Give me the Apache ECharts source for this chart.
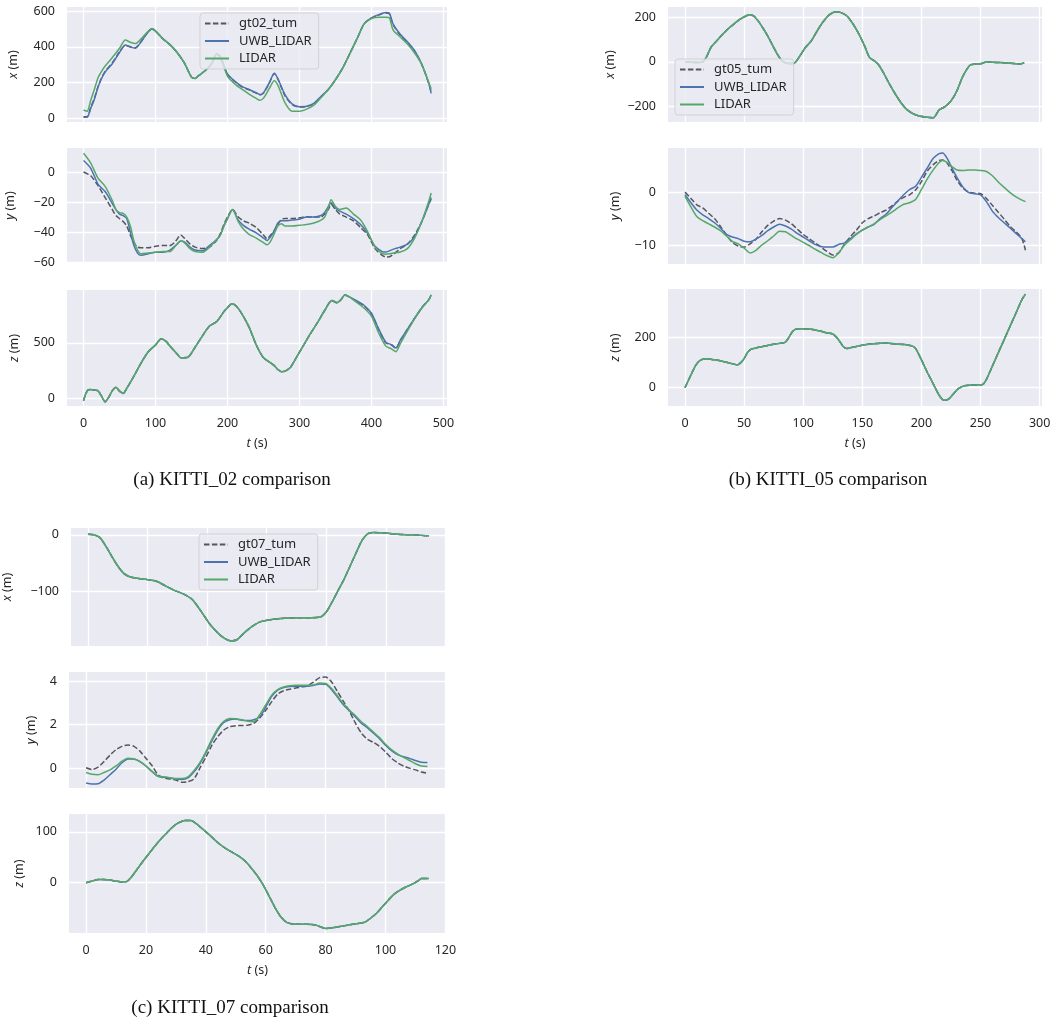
<!DOCTYPE html>
<html>
<head>
<meta charset="utf-8">
<title>KITTI trajectory comparison</title>
<script src="https://cdn.jsdelivr.net/npm/echarts@6/dist/echarts.min.js"></script>
<style>
  html, body { margin: 0; padding: 0; background: #ffffff; }
  #chart { width: 1054px; height: 1020px; }
</style>
</head>
<body>
<div id="chart"></div>
<script>
// ---------- KITTI_02 ----------
const A_x_t = [0,5,10,15,20,25,30,40,50,58,65,72,80,88,95,100,110,120,130,140,150,155,160,170,178,185,190,200,210,220,230,240,245,250,258,265,270,280,290,300,310,320,330,340,350,360,370,380,390,400,410,420,425,430,440,450,460,470,480,483];
const A_x_gt = [8,8,60,110,175,225,262,310,372,408,400,394,430,475,500,488,445,412,368,310,230,222,238,270,305,360,345,245,205,175,158,140,130,140,195,250,218,125,75,62,65,80,120,160,215,280,362,445,530,560,578,590,585,525,465,425,375,300,190,145];
const A_x_uwb = [5,5,55,105,172,222,258,305,368,410,398,392,428,474,500,488,446,412,368,310,230,222,238,270,305,360,345,248,207,178,160,142,132,142,198,252,222,130,78,64,66,82,122,160,215,280,362,445,530,562,580,592,588,528,470,428,378,302,192,138];
const A_x_lidar = [45,38,100,160,225,262,292,340,392,438,425,418,445,480,502,490,445,412,368,310,228,222,238,270,305,358,340,235,192,162,135,110,100,112,165,210,185,85,38,38,50,72,115,160,215,280,362,445,530,558,566,566,562,495,455,415,365,300,195,165];

const A_y_t = [0,10,20,30,40,45,50,55,60,65,70,75,80,90,100,110,120,128,135,140,148,155,165,175,185,190,195,200,207,215,222,230,240,250,255,260,265,270,275,280,290,300,310,320,330,335,340,344,350,356,365,375,385,395,405,415,420,425,430,440,450,460,470,480,483];
const A_y_gt = [0,-2.5,-9,-17,-25,-29,-31,-33,-36,-42,-47,-50,-50.5,-50.5,-49.5,-49,-49,-46,-42,-44,-48,-50,-51,-50,-45.5,-41,-35,-30,-25,-30,-32.5,-34,-37,-42,-44.5,-42,-39,-35,-31.5,-31,-31,-30.5,-29.8,-30,-30,-28,-25,-21.5,-25,-28,-30,-32.5,-37,-42,-51,-55.5,-56.6,-56.5,-55,-51,-48,-42,-33,-21,-18];
const A_y_uwb = [7.7,2.5,-8,-13,-21,-25,-28,-29,-31,-40,-49,-54,-55.5,-54.5,-53.5,-53.5,-52,-49,-46,-46.5,-50,-52,-52.5,-49,-45,-42,-36,-31,-25,-32,-35.5,-38,-40.5,-44,-45.6,-43,-39,-34,-32.5,-32.5,-32,-31.4,-30,-30,-29,-27,-23,-20.4,-24,-26,-28,-31,-35,-41,-49.5,-53,-53.3,-52.5,-51.5,-50,-48,-43,-33,-21,-17];
const A_y_lidar = [12.5,6,-4,-9.5,-19,-25,-27,-27.5,-30,-36,-46,-52,-54.5,-54,-53.5,-53,-53,-49,-46,-47,-51,-53,-53.5,-50,-45,-42,-36,-31,-25,-33,-38,-41.5,-44,-47,-48.5,-46,-41,-36,-34.5,-36,-36,-35.5,-35,-34,-32,-30,-24,-18.5,-23,-25,-24,-28,-32,-40,-50,-54.4,-54.8,-54.5,-54,-53.3,-51,-44,-33,-19,-14];

const A_z_t = [0,3,6,10,15,20,25,30,35,40,45,50,55,60,70,80,90,100,108,115,120,130,135,145,155,165,175,185,195,200,206,212,220,230,240,250,260,265,270,275,280,287,295,305,315,325,335,345,352,358,363,370,380,390,400,410,420,428,434,440,450,460,470,480,483];
const A_z_gt = [-20,40,75,80,75,70,20,-30,10,70,100,65,45,90,200,320,420,480,535,510,470,400,365,370,460,560,650,690,780,815,850,830,760,640,480,365,320,295,260,240,245,275,360,470,580,680,790,880,860,890,928,910,870,830,760,620,500,480,450,520,620,720,815,890,930];
const A_z_uwb = [-20,40,75,80,75,70,20,-30,10,70,100,65,45,90,200,320,420,480,535,510,470,400,365,370,460,560,650,690,780,815,850,830,760,640,480,365,320,295,260,240,245,275,360,470,580,680,790,880,860,890,928,910,875,835,765,625,505,482,452,522,622,722,815,890,930];
const A_z_lidar = [-20,40,75,80,75,70,20,-30,10,70,100,65,45,90,200,320,420,480,535,510,470,400,365,370,460,560,650,690,780,815,850,830,760,640,480,365,320,295,260,240,245,275,360,470,580,680,790,880,860,890,928,910,860,810,740,590,470,445,420,490,605,715,810,888,930];

// ---------- KITTI_05 ----------
const B_x_t = [0,5,10,15,18,22,27,32,37,42,47,52,55,58,62,66,70,74,78,82,87,92,97,102,107,112,117,122,128,132,137,142,147,152,156,160,164,168,173,178,183,188,193,198,205,210,215,220,225,230,235,241,245,251,255,260,266,272,278,283,287];
const B_x_gt = [0,-2,-3,0,20,65,95,124,150,172,192,206,210,205,182,150,115,75,35,5,-7,-7,25,65,95,140,180,210,224,220,205,170,125,70,20,5,-15,-50,-100,-145,-185,-215,-232,-242,-248,-250,-215,-200,-175,-130,-65,-15,-10,-8,0,-2,-3,-5,-7,-10,-4];
const B_x_uwb = B_x_gt;
const B_x_lidar = B_x_gt;

const B_y_t = [0,5,10,15,20,25,30,35,40,45,50,55,60,65,70,75,80,85,90,95,100,105,110,115,120,125,130,135,140,145,150,155,160,165,170,175,180,185,190,195,200,205,210,215,218,222,226,230,235,240,245,250,255,260,265,270,275,280,285,288];
const B_y_gt = [0,-1.2,-2.4,-3,-4,-5,-6.5,-8.1,-9.5,-10.2,-10.4,-9.8,-8.9,-7.5,-6.3,-5.5,-5,-5.3,-6,-7,-8,-8.8,-9.6,-10.4,-11.2,-11.9,-11.5,-9.8,-8.4,-7.2,-5.8,-5,-4.5,-3.9,-3.4,-2.6,-1.7,-1,-0.5,0.4,2,4,5.2,6,6.1,5.4,4,2.3,0.8,0,-0.2,-0.3,-1.2,-2.5,-3.8,-5.1,-6.5,-7.5,-8.8,-11];
const B_y_uwb = [-0.5,-2,-3.4,-4.3,-5,-5.8,-6.8,-8,-8.5,-8.8,-9.3,-9.4,-8.9,-8.2,-7.3,-6.6,-6.1,-6.4,-7,-7.8,-8.5,-9.2,-9.9,-10.3,-10.4,-10.4,-9.9,-9.6,-8.8,-7.9,-7.2,-6.6,-6.1,-5,-4.2,-2.9,-1.7,-0.5,0.5,1.1,2.8,4.6,6.4,7.3,7.4,6.3,4.5,2.8,1,-0.1,-0.3,-0.5,-1.8,-3.6,-4.8,-5.8,-6.8,-7.8,-8.8,-9.4];
const B_y_lidar = [-0.8,-2.8,-4.6,-5.4,-6,-6.6,-7.3,-8.3,-9.3,-9.8,-10.6,-11.5,-11,-10,-9.2,-8.3,-7.4,-7.5,-8.2,-8.9,-9.5,-10.1,-10.8,-11.4,-12,-12.4,-11.5,-10,-9,-8,-7.2,-6.6,-6,-5.2,-4.5,-3.8,-3,-2.3,-2,-1.4,0.5,2.5,4.2,5.6,6,5.6,4.8,4.2,4.1,4.2,4.2,4.1,3.9,3.1,1.9,0.9,-0.1,-0.9,-1.5,-1.8];

const B_z_t = [0,3,6,9,12,15,20,25,30,35,40,44,47,50,53,56,60,65,70,75,80,85,88,91,94,98,105,110,115,120,125,128,131,134,137,145,152,160,170,180,188,192,195,200,205,210,215,219,223,227,231,236,242,248,252,255,260,265,270,275,280,285,288];
const B_z_gt = [0,30,60,88,105,112,113,110,106,100,95,90,98,115,140,152,157,162,167,172,175,180,200,222,232,233,232,228,223,216,212,200,182,162,155,163,170,174,176,172,169,165,155,110,60,15,-30,-50,-45,-25,-5,7,10,11,13,33,85,138,190,243,295,348,370];
const B_z_uwb = B_z_gt;
const B_z_lidar = B_z_gt;

// ---------- KITTI_07 ----------
const C_x_t = [0,2,4,6,8,10,12,14,17,20,23,26,29,32,35,38,41,44,46,48,50,52,55,58,62,66,70,75,78,80,82,84,86,88,90,92,94,96,100,104,108,112,114.5];
const C_x_gt = [1,0,-5,-20,-38,-55,-68,-74,-77,-79,-82,-90,-98,-104,-114,-135,-158,-175,-183,-187,-185,-175,-162,-153,-149,-147,-146,-146,-145,-136,-118,-98,-78,-55,-32,-10,2,4,3,1,0,-1,-2];
const C_x_uwb = C_x_gt;
const C_x_lidar = C_x_gt;

const C_y_t = [0,2,4,6,8,10,12,14,16,18,20,22,24,26,28,30,32,34,36,38,40,42,44,46,48,50,52,54,56,58,60,62,64,66,68,70,72,74,76,78,80,82,84,86,88,90,92,94,96,98,100,102,104,106,108,110,112,114];
const C_y_gt = [0.02,-0.06,0.05,0.3,0.6,0.85,1.0,1.06,1.0,0.78,0.45,0.12,-0.3,-0.45,-0.5,-0.55,-0.65,-0.62,-0.5,0.0,0.5,1.05,1.45,1.75,1.9,1.95,1.96,1.97,2.05,2.3,2.65,3.05,3.4,3.55,3.62,3.68,3.72,3.78,3.95,4.15,4.18,3.95,3.5,3.05,2.6,2.05,1.6,1.32,1.18,1.0,0.75,0.45,0.25,0.1,0.0,-0.08,-0.18,-0.23];
const C_y_uwb = [-0.68,-0.73,-0.72,-0.55,-0.3,-0.05,0.25,0.42,0.42,0.3,0.1,-0.15,-0.38,-0.42,-0.45,-0.5,-0.52,-0.45,-0.18,0.2,0.7,1.25,1.75,2.1,2.22,2.25,2.2,2.18,2.22,2.35,2.8,3.3,3.58,3.7,3.75,3.76,3.76,3.76,3.8,3.86,3.85,3.6,3.25,2.9,2.62,2.35,2.05,1.85,1.6,1.35,1.05,0.8,0.62,0.52,0.45,0.35,0.27,0.26];
const C_y_lidar = [-0.2,-0.28,-0.3,-0.2,-0.08,0.1,0.32,0.45,0.42,0.3,0.1,-0.15,-0.36,-0.4,-0.44,-0.48,-0.48,-0.4,-0.12,0.25,0.75,1.32,1.82,2.15,2.28,2.27,2.22,2.15,2.13,2.45,2.9,3.35,3.6,3.72,3.78,3.8,3.8,3.8,3.82,3.9,3.88,3.65,3.3,2.95,2.65,2.4,2.12,1.9,1.65,1.4,1.1,0.85,0.65,0.5,0.35,0.2,0.1,0.08];

const C_z_t = [0,2,4,6,8,10,12,13.5,15,17,19,21,23,25,27,29,31,33,35,37,39,41,43,45,47,49,51,53,55,57,59,61,63,65,67,70,74,77,80,83,86,90,93,95,97,99,101,103,105,107,109,111,112,114.4];
const C_z_gt = [0,3,6,6,5,3,1.5,2,10,26,42,57,72,86,98,110,118,122,122,115,105,95,84,74,66,59,52,43,30,15,-3,-25,-48,-67,-78,-82,-82,-84,-90,-88,-85,-81,-78,-70,-60,-47,-34,-22,-14,-8,-3,4,8,8];
const C_z_uwb = C_z_gt;
const C_z_lidar = C_z_gt;

// ---------- tick labels ----------
const A_t_ticks = [0,100,200,300,400,500];
const B_t_ticks = [0,50,100,150,200,250,300];
const C_t_ticks = [0,20,40,60,80,100,120];
const A_x_ticks = [0,200,400,600];
const A_y_ticks = [-60,-40,-20,0];
const A_z_ticks = [0,500];
const B_x_ticks = [-200,0,200];
const B_y_ticks = [-10,0];
const B_z_ticks = [0,200];
const C_x_ticks = [-100,0];
const C_y_ticks = [0,2,4];
const C_z_ticks = [0,100];

const seriesLabels = { a: 'gt02_tum', b: 'gt05_tum', c: 'gt07_tum' };
const captions = { a: '(a) KITTI_02 comparison', b: '(b) KITTI_05 comparison', c: '(c) KITTI_07 comparison' };

// ---------- layout / style ----------
const TEXT = '#262626';
const FONT = 'Noto Sans';
const TICK_SIZE = 12.5;
const COL_GT = '#55555e';
const COL_UWB = '#4C72B0';
const COL_LIDAR = '#55A868';

const panels = [
  { key: 'a', left: 67, width: 380, tRange: [-23, 505], tTicks: A_t_ticks,
    legend: { left: 200, top: 13 }, caption: { x: 232, y: 480 },
    rows: [
      { v: 'x', top: 7,   height: 115, range: [-22, 623],   ticks: A_x_ticks, gap: 47, t: A_x_t, gt: A_x_gt, uwb: A_x_uwb, lidar: A_x_lidar },
      { v: 'y', top: 148, height: 115, range: [-60.6, 16],  ticks: A_y_ticks, gap: 50, t: A_y_t, gt: A_y_gt, uwb: A_y_uwb, lidar: A_y_lidar },
      { v: 'z', top: 290, height: 116, range: [-68, 974],   ticks: A_z_ticks, gap: 46, t: A_z_t, gt: A_z_gt, uwb: A_z_uwb, lidar: A_z_lidar }
    ] },
  { key: 'b', left: 668, width: 374, tRange: [-14.4, 302], tTicks: B_t_ticks,
    legend: { left: 675, top: 59 }, caption: { x: 828, y: 480 },
    rows: [
      { v: 'x', top: 7,   height: 115, range: [-269, 245],  ticks: B_x_ticks, gap: 51, t: B_x_t, gt: B_x_gt, uwb: B_x_uwb, lidar: B_x_lidar },
      { v: 'y', top: 148, height: 116, range: [-13.6, 8.35],ticks: B_y_ticks, gap: 46, t: B_y_t, gt: B_y_gt, uwb: B_y_uwb, lidar: B_y_lidar },
      { v: 'z', top: 289, height: 117, range: [-72.6, 390], ticks: B_z_ticks, gap: 46, t: B_z_t, gt: B_z_gt, uwb: B_z_uwb, lidar: B_z_lidar }
    ] },
  { key: 'c', left: 69, width: 377, tRange: [-5.7, 120.2], tTicks: C_t_ticks,
    legend: { left: 199, top: 534 }, caption: { x: 230, y: 1008 },
    rows: [
      { v: 'x', top: 528, height: 118, range: [-196, 12],   ticks: C_x_ticks, gap: 57, t: C_x_t, gt: C_x_gt, uwb: C_x_uwb, lidar: C_x_lidar },
      { v: 'y', top: 672, height: 116, range: [-0.91, 4.41],ticks: C_y_ticks, gap: 31, t: C_y_t, gt: C_y_gt, uwb: C_y_uwb, lidar: C_y_lidar },
      { v: 'z', top: 814, height: 119, range: [-99, 135],   ticks: C_z_ticks, gap: 43, t: C_z_t, gt: C_z_gt, uwb: C_z_uwb, lidar: C_z_lidar }
    ] }
];

function zip(t, v) { return t.map((ti, i) => [ti, v[i]]); }
const minus = (val) => String(val).replace('-', '\u2212');

const grids = [], xAxes = [], yAxes = [], series = [], legends = [], graphics = [];

panels.forEach((p) => {
  p.rows.forEach((r, ri) => {
    const idx = grids.length;
    const isBottom = ri === p.rows.length - 1;
    grids.push({
      left: p.left, top: r.top, width: p.width, height: r.height,
      show: true, backgroundColor: '#EAEAF2', borderWidth: 0, containLabel: false
    });
    xAxes.push({
      type: 'value', gridIndex: idx, min: p.tRange[0], max: p.tRange[1],
      axisLine: { show: false },
      axisTick: { show: false, customValues: p.tTicks },
      axisLabel: { show: isBottom, customValues: p.tTicks, margin: 11,
                   color: TEXT, fontFamily: FONT, fontSize: TICK_SIZE },
      splitLine: { show: true, lineStyle: { color: '#ffffff', width: 1.3 } },
      name: isBottom ? '{i|t} (s)' : '',
      nameLocation: 'middle', nameGap: 31,
      nameTextStyle: { color: TEXT, fontFamily: FONT, fontSize: TICK_SIZE,
                       rich: { i: { fontStyle: 'italic', fontFamily: FONT, fontSize: TICK_SIZE, color: TEXT } } }
    });
    yAxes.push({
      type: 'value', gridIndex: idx, min: r.range[0], max: r.range[1],
      axisLine: { show: false },
      axisTick: { show: false, customValues: r.ticks },
      axisLabel: { customValues: r.ticks, margin: 12, color: TEXT, fontFamily: FONT, fontSize: TICK_SIZE,
                   formatter: minus },
      splitLine: { show: true, lineStyle: { color: '#ffffff', width: 1.3 } },
      name: '{i|' + r.v + '} (m)',
      nameLocation: 'middle', nameRotate: 90, nameGap: r.gap,
      nameTextStyle: { color: TEXT, fontFamily: FONT, fontSize: TICK_SIZE,
                       rich: { i: { fontStyle: 'italic', fontFamily: FONT, fontSize: TICK_SIZE, color: TEXT } } }
    });
    const common = { type: 'line', xAxisIndex: idx, yAxisIndex: idx, showSymbol: false, symbol: 'none',
                     smooth: 0.25, animation: false, z: 2 };
    series.push(Object.assign({}, common, {
      name: seriesLabels[p.key], data: zip(r.t, r.gt),
      lineStyle: { color: COL_GT, width: 1.5, type: [5.5, 2.4] }, itemStyle: { color: COL_GT, opacity: 0 }
    }));
    series.push(Object.assign({}, common, {
      name: 'UWB_LIDAR', data: zip(r.t, r.uwb),
      lineStyle: { color: COL_UWB, width: 1.5 }, itemStyle: { color: COL_UWB, opacity: 0 }
    }));
    series.push(Object.assign({}, common, {
      name: 'LIDAR', data: zip(r.t, r.lidar),
      lineStyle: { color: COL_LIDAR, width: 1.5 }, itemStyle: { color: COL_LIDAR, opacity: 0 }
    }));
  });

  legends.push({
    orient: 'vertical', left: p.legend.left, top: p.legend.top,
    data: [seriesLabels[p.key], 'UWB_LIDAR', 'LIDAR'],
    itemWidth: 24, itemHeight: 14, itemGap: 4.5,
    padding: [4, 7, 4, 4],
    backgroundColor: 'rgba(234,234,242,0.8)',
    borderColor: 'rgba(204,204,204,0.8)', borderWidth: 1, borderRadius: 3,
    selectedMode: false,
    itemStyle: { opacity: 0 },
    textStyle: { color: TEXT, fontFamily: FONT, fontSize: 13, padding: [0, 0, 0, 5] }
  });

  graphics.push({
    type: 'text', x: p.caption.x, y: p.caption.y, silent: true,
    style: { text: captions[p.key], fill: '#111111', font: '19px "Liberation Serif", "DejaVu Serif", serif',
             textAlign: 'center', textVerticalAlign: 'middle' }
  });
});

const chart = echarts.init(document.getElementById('chart'), null, { renderer: 'canvas' });
chart.setOption({
  animation: false,
  backgroundColor: '#ffffff',
  grid: grids, xAxis: xAxes, yAxis: yAxes, series: series,
  legend: legends, graphic: graphics
});
</script>
</body>
</html>
